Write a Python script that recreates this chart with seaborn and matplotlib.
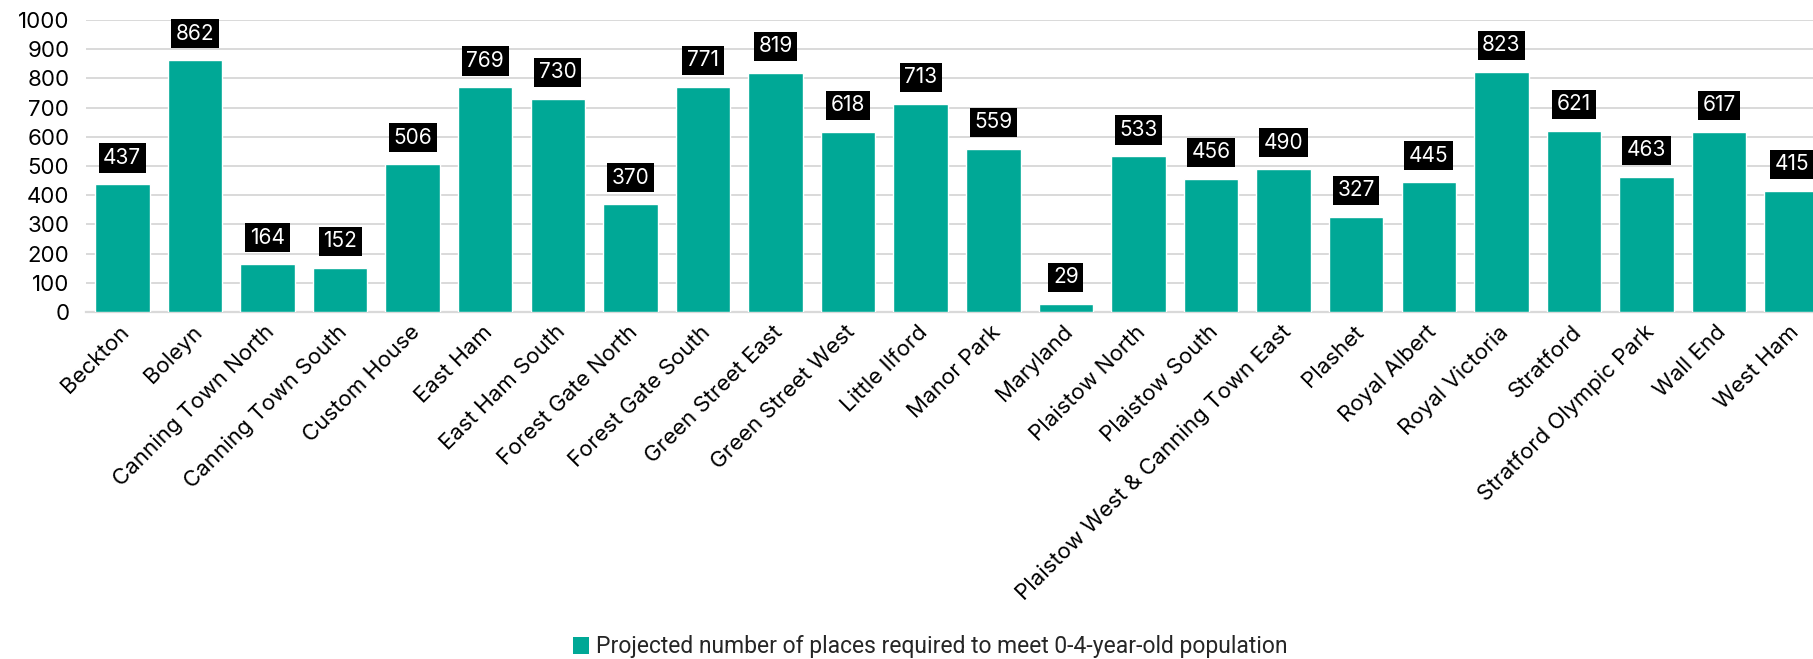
import matplotlib
matplotlib.use("Agg")
import matplotlib.pyplot as plt
import matplotlib.transforms as mtransforms
import seaborn as sns
import pandas as pd

wards = [
    "Beckton", "Boleyn", "Canning Town North", "Canning Town South",
    "Custom House", "East Ham", "East Ham South", "Forest Gate North",
    "Forest Gate South", "Green Street East", "Green Street West",
    "Little Ilford", "Manor Park", "Maryland", "Plaistow North",
    "Plaistow South", "Plaistow West & Canning Town East", "Plashet",
    "Royal Albert", "Royal Victoria", "Stratford", "Stratford Olympic Park",
    "Wall End", "West Ham",
]
places = [
    437, 862, 164, 152, 506, 769, 730, 370, 771, 819, 618, 713,
    559, 29, 533, 456, 490, 327, 445, 823, 621, 463, 617, 415,
]
series_name = "Projected number of places required to meet 0-4-year-old population"
y_ticks = [0, 100, 200, 300, 400, 500, 600, 700, 800, 900, 1000]

df = pd.DataFrame({"ward": wards, "places": places, "series": series_name})

sns.set_theme(style="white")
plt.rcParams["font.family"] = ["Inter", "DejaVu Sans"]

BAR = "#00A896"
GRID = "#d9d9d9"

fig = plt.figure(figsize=(18.13, 6.59), dpi=100)
ax = fig.add_axes([86 / 1813, 1 - 312 / 659, 1742 / 1813, 292 / 659])

sns.barplot(data=df, x="ward", y="places", hue="series", palette=[BAR],
            width=0.75, saturation=1, ax=ax, legend=False, zorder=3)

ax.set_ylim(0, 1000)
ax.set_xlim(-0.5, len(wards) - 0.5)
ax.set_yticks(y_ticks)
ax.set_yticklabels([str(t) for t in y_ticks], fontsize=16, color="#000000")
ax.yaxis.grid(True, color=GRID, linewidth=1.4, zorder=0)
ax.set_axisbelow(True)
for side in ("top", "right", "left"):
    ax.spines[side].set_visible(False)
ax.spines["bottom"].set_color(GRID)
ax.spines["bottom"].set_linewidth(1.6)
ax.tick_params(axis="both", length=0)
ax.tick_params(axis="y", pad=12)
ax.set_xlabel("")
ax.set_ylabel("")

# rotated ward names
ax.set_xticks(range(len(wards)))
ax.set_xticklabels(wards, rotation=45, ha="right", va="center",
                   rotation_mode="anchor", fontsize=16, color="#000000")
shift = mtransforms.ScaledTranslation(4 / 100, -12 / 100, fig.dpi_scale_trans)
for lbl in ax.get_xticklabels():
    lbl.set_transform(lbl.get_transform() + shift)

# value labels in black boxes above each bar
for i, v in enumerate(places):
    ax.annotate(str(v), xy=(i, v), xytext=(0, 19), textcoords="offset points",
                ha="center", va="center", fontsize=15, color="white",
                bbox=dict(boxstyle="square,pad=0.22", fc="black", ec="none"),
                zorder=5, annotation_clip=False)

handle = plt.Rectangle((0, 0), 1, 1, fc=BAR, ec="none")
fig.legend([handle], [series_name], loc="center", bbox_to_anchor=(930 / 1813, 1 - 647 / 659),
           frameon=False, handlelength=0.7, handleheight=0.7, handletextpad=0.3,
           prop={"family": ["Roboto", "DejaVu Sans"], "size": 16.5})

fig.savefig("out.png", dpi=100)
